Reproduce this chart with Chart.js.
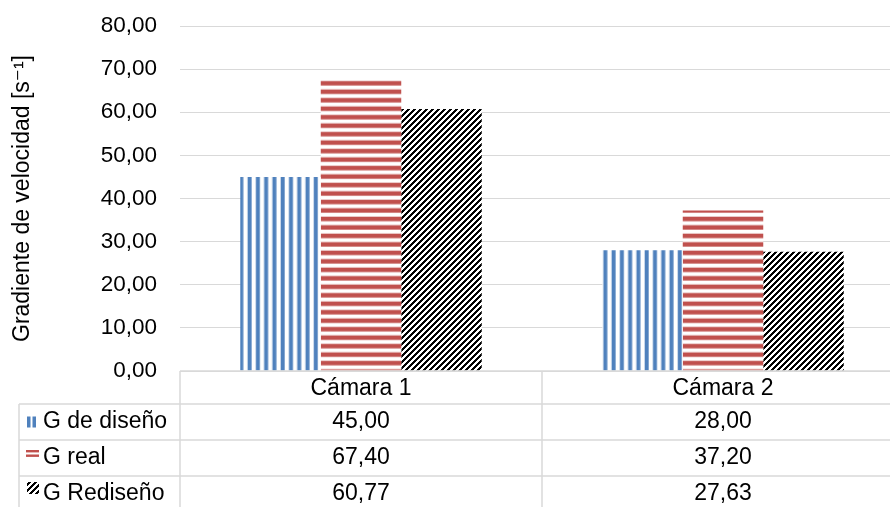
<!DOCTYPE html>
<html>
<head>
<meta charset="utf-8">
<script src="https://cdn.jsdelivr.net/npm/chart.js@4/dist/chart.umd.min.js"></script>
<style>
  html, body { margin: 0; padding: 0; background: #fff; overflow: hidden; }
  #wrap { width: 890px; height: 507px; overflow: hidden; position: relative; }
  canvas { display: block; }
</style>
</head>
<body>
<div id="wrap"><canvas id="c" width="905" height="507"></canvas></div>
<script>
// ---- data ----
const categories = ['Cámara 1', 'Cámara 2'];
const seriesNames = ['G de diseño', 'G real', 'G Rediseño'];
const gDiseno = [45.00, 28.00];
const gReal = [67.40, 37.20];
const gRediseno = [60.77, 27.63];
const yTicksMin = 0, yTicksMax = 80, yTicksStep = 10;
const yTitle = 'Gradiente de velocidad [s\u207B\u00B9]';

const FONT = '"Liberation Sans", Arial, "DejaVu Sans", sans-serif';
const BLUE = '#4F81BD', RED = '#C0504D';

function fmt(v) { return v.toFixed(2).replace('.', ','); }

function patternVertical(color) {
  const n = 11, w = 91, p = w / n;
  const c = document.createElement('canvas');
  c.width = w; c.height = 2;
  const g = c.getContext('2d');
  g.fillStyle = '#fff'; g.fillRect(0, 0, c.width, c.height);
  g.fillStyle = color;
  for (let i = 0; i < n; i++) g.fillRect(i * p, 0, 4.0, c.height);
  const pat = g.createPattern(c, 'repeat');
  pat.setTransform(new DOMMatrix().translate(7.66, 0));
  return pat;
}
function patternHorizontal(color) {
  const n = 25, h = 212, p = h / n;
  const c = document.createElement('canvas');
  c.width = 2; c.height = h;
  const g = c.getContext('2d');
  g.fillStyle = '#fff'; g.fillRect(0, 0, c.width, c.height);
  g.fillStyle = color;
  for (let i = 0; i < n; i++) g.fillRect(0, i * p, c.width, 4.5);
  const pat = g.createPattern(c, 'repeat');
  pat.setTransform(new DOMMatrix().translate(0, 4.68));
  return pat;
}
function patternDiagonal(color) {
  const s = 6;
  const c = document.createElement('canvas');
  c.width = s; c.height = s;
  const g = c.getContext('2d');
  g.fillStyle = '#fff'; g.fillRect(0, 0, s, s);
  g.fillStyle = color;
  for (let x = 0; x < s; x++) for (let y = 0; y < s; y++) {
    if (((x + y) % s) < 3) g.fillRect(x, y, 1, 1);
  }
  return g.createPattern(c, 'repeat');
}

const pBlue = patternVertical(BLUE);
const pRed = patternHorizontal(RED);
const pBlack = patternDiagonal('#000');

const tablePlugin = {
  id: 'dataTable',
  afterDraw(chart) {
    const ctx = chart.ctx;
    const area = chart.chartArea;
    const xs = chart.scales.x;
    const n = categories.length;
    const cw = (area.right - area.left) / n;
    const top = area.bottom;
    const headerH = 33;
    const rowH = 36;
    const legendLeft = 19;
    const rowsY = [top + headerH, top + headerH + rowH, top + headerH + 2 * rowH, top + headerH + 3 * rowH];
    ctx.save();
    ctx.strokeStyle = '#D9D9D9';
    ctx.lineWidth = 1.5;
    ctx.beginPath();
    ctx.moveTo(area.left, top); ctx.lineTo(area.right, top);
    for (let r = 0; r < rowsY.length; r++) {
      ctx.moveTo(legendLeft, rowsY[r]); ctx.lineTo(area.right, rowsY[r]);
    }
    for (let i = 0; i <= n; i++) {
      const x = area.left + i * cw;
      ctx.moveTo(x, top); ctx.lineTo(x, rowsY[3]);
    }
    ctx.moveTo(legendLeft, rowsY[0]); ctx.lineTo(legendLeft, rowsY[3]);
    ctx.stroke();

    ctx.fillStyle = '#000';
    ctx.font = '23px ' + FONT;
    ctx.textBaseline = 'middle';
    ctx.textAlign = 'center';
    for (let i = 0; i < n; i++) {
      ctx.fillText(categories[i], xs.getPixelForValue(i), top + headerH / 2 + 1);
    }
    const seriesVals = [gDiseno, gReal, gRediseno];
    for (let s = 0; s < seriesVals.length; s++) {
      const cy = rowsY[s] + rowH / 2;
      for (let i = 0; i < n; i++) {
        ctx.fillText(fmt(seriesVals[s][i]), xs.getPixelForValue(i), cy);
      }
    }
    ctx.textAlign = 'left';
    for (let s = 0; s < seriesNames.length; s++) {
      ctx.fillText(seriesNames[s], 43, rowsY[s] + rowH / 2);
    }
    let cy = rowsY[0] + rowH / 2;
    ctx.fillStyle = BLUE;
    ctx.fillRect(27, cy - 5.5, 3.5, 11);
    ctx.fillRect(32.5, cy - 5.5, 3.5, 11);
    cy = rowsY[1] + rowH / 2;
    ctx.fillStyle = RED;
    ctx.fillRect(26, cy - 8, 13, 2.4);
    ctx.fillRect(26, cy - 3.5, 13, 2.4);
    cy = rowsY[2] + rowH / 2;
    ctx.fillStyle = pBlack;
    ctx.fillRect(27, cy - 12, 12, 12);
    ctx.restore();
  }
};

new Chart(document.getElementById('c'), {
  type: 'bar',
  data: {
    labels: categories,
    datasets: [
      { label: seriesNames[0], data: gDiseno, backgroundColor: pBlue, borderWidth: 0 },
      { label: seriesNames[1], data: gReal, backgroundColor: pRed, borderWidth: 0 },
      { label: seriesNames[2], data: gRediseno, backgroundColor: pBlack, borderWidth: 0 }
    ]
  },
  options: {
    responsive: false,
    animation: false,
    devicePixelRatio: 1,
    categoryPercentage: 0.667,
    barPercentage: 1.0,
    layout: { padding: { top: 26, bottom: 136, left: 0, right: 1 } },
    plugins: { legend: { display: false }, tooltip: { enabled: false } },
    scales: {
      x: { display: false },
      y: {
        min: yTicksMin, max: yTicksMax,
        ticks: {
          stepSize: yTicksStep,
          color: '#000',
          font: { family: FONT, size: 22.5 },
          padding: 1,
          callback: (v) => fmt(v)
        },
        grid: { color: '#D9D9D9', lineWidth: 1, drawTicks: true, tickLength: 22, tickColor: 'rgba(0,0,0,0)' },
        border: { display: false },
        title: {
          display: true,
          text: yTitle,
          color: '#000',
          font: { family: FONT, size: 23 },
          padding: { top: 9, bottom: 0 }
        },
        afterFit: (s) => { s.width = 180; }
      }
    }
  },
  plugins: [tablePlugin]
});
</script>
</body>
</html>
